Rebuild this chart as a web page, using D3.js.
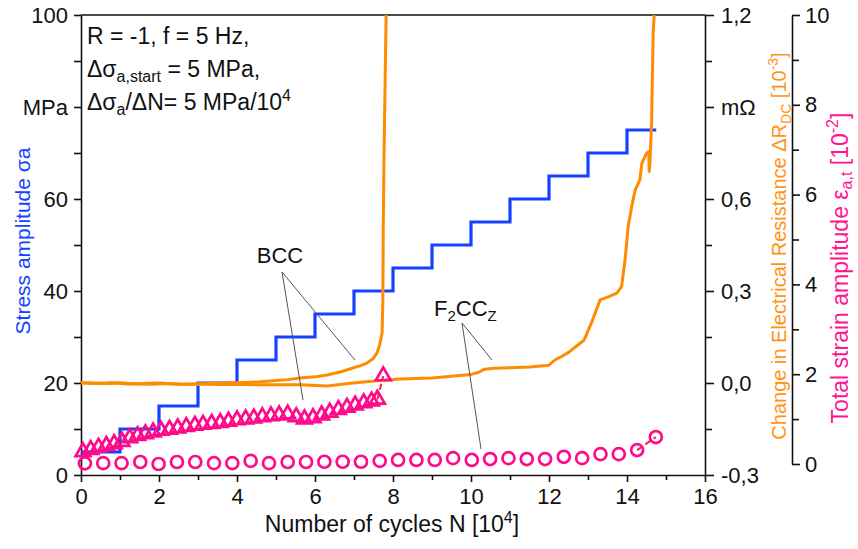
<!DOCTYPE html>
<html>
<head>
<meta charset="utf-8">
<script src="https://cdn.jsdelivr.net/npm/d3@7"></script>
<style>
  html, body { margin: 0; padding: 0; background: #fff; }
  svg { display: block; font-family: Arial, "Liberation Sans", sans-serif; }
</style>
</head>
<body>
<svg id="chart" width="858" height="549"></svg>
<script>
// ---- data -------------------------------------------------------------
// stress amplitude steps (MPa) vs. cycles (10^4)
const stressN = [0, 1, 2, 3, 4, 5, 6, 7, 8, 9, 10, 11, 12, 13, 14, 14.75];
const stressVal = [5, 10, 15, 20, 25, 30, 35, 40, 45, 50, 55, 60, 65, 70, 75, 75];

// change in electrical resistance, BCC
const bccN = [0, 0.3, 0.7, 1.0, 1.4, 1.8, 2.2, 2.6, 3.0, 3.4, 3.8, 4.2, 4.6, 5.0, 5.3, 5.62, 6.0, 6.31, 6.65, 6.97, 7.15, 7.33, 7.48, 7.59, 7.66, 7.72, 7.74, 7.75, 7.77, 7.8, 7.83];
const bccR = [0.001, 0.0, -0.002, 0.001, -0.003, -0.004, -0.002, -0.004, -0.003, -0.001, 0.0, 0.002, 0.004, 0.008, 0.011, 0.016, 0.02, 0.026, 0.036, 0.049, 0.056, 0.065, 0.078, 0.098, 0.125, 0.163, 0.27, 0.5, 0.75, 1.0, 1.25];

// change in electrical resistance, F2CCZ
const fccN = [0, 0.4, 0.8, 1.2, 1.6, 2.0, 2.5, 3.0, 3.5, 4.0, 4.5, 5.0, 5.62, 6.31, 6.97, 7.59, 8.18, 8.6, 9.0, 9.5, 10.0, 10.2, 10.35, 10.6, 11.0, 11.5, 12.0, 12.15, 12.3, 12.5, 12.7, 12.9, 13.1, 13.31, 13.5, 13.74, 13.86, 13.95, 14.03, 14.12, 14.21, 14.33, 14.38, 14.5, 14.56, 14.57, 14.59, 14.63, 14.67, 14.72];
const fccR = [0.0, -0.002, 0.001, -0.003, -0.002, 0.0, -0.004, -0.003, -0.005, -0.004, -0.006, -0.006, -0.006, -0.010, 0.0, 0.007, 0.013, 0.015, 0.016, 0.022, 0.028, 0.035, 0.045, 0.048, 0.05, 0.052, 0.058, 0.075, 0.085, 0.1, 0.12, 0.14, 0.2, 0.271, 0.28, 0.293, 0.314, 0.401, 0.51, 0.575, 0.629, 0.662, 0.716, 0.749, 0.755, 0.69, 0.72, 0.85, 1.14, 1.25];

// total strain amplitude (10^-2), BCC (triangles)
const triN = [0.05, 0.25, 0.45, 0.65, 0.85, 1.05, 1.25, 1.45, 1.65, 1.85, 2.05, 2.27, 2.48, 2.7, 2.92, 3.13, 3.35, 3.57, 3.78, 4.0, 4.22, 4.43, 4.65, 4.87, 5.08, 5.3, 5.52, 5.73, 5.95, 6.17, 6.38, 6.6, 6.82, 7.03, 7.25, 7.45, 7.6];
const triE = [0.27, 0.32, 0.37, 0.41, 0.45, 0.5, 0.58, 0.63, 0.67, 0.71, 0.75, 0.77, 0.8, 0.83, 0.86, 0.88, 0.9, 0.92, 0.95, 0.98, 1.0, 1.02, 1.05, 1.07, 1.09, 1.11, 1.05, 1.0, 1.03, 1.09, 1.15, 1.21, 1.26, 1.31, 1.36, 1.4, 1.44];
const triLastN = 7.75, triLastE = 1.96;

// total strain amplitude (10^-2), F2CCZ (circles)
const circN = [0.1, 0.57, 1.04, 1.52, 1.99, 2.46, 2.93, 3.41, 3.88, 4.35, 4.82, 5.3, 5.77, 6.24, 6.71, 7.18, 7.66, 8.13, 8.6, 9.07, 9.54, 10.02, 10.49, 10.96, 11.43, 11.9, 12.38, 12.85, 13.32, 13.79, 14.26];
const circE = [0.015, 0.02, 0.02, 0.045, 0.0, 0.045, 0.045, 0.02, 0.02, 0.07, 0.02, 0.045, 0.045, 0.05, 0.05, 0.05, 0.07, 0.09, 0.09, 0.09, 0.13, 0.09, 0.11, 0.13, 0.11, 0.11, 0.16, 0.13, 0.22, 0.22, 0.31];
const circLastN = 14.74, circLastE = 0.6;

// axis ticks
const xTicks = [0, 2, 4, 6, 8, 10, 12, 14, 16];
const xMinor = [1, 3, 5, 7, 9, 11, 13, 15];
const sTicks = [0, 20, 40, 60, 80, 100];
const sLabels = ["0", "20", "40", "60", "MPa", "100"];
const sMinor = [10, 30, 50, 70, 90];
const rTicks = [-0.3, 0.0, 0.3, 0.6, 0.9, 1.2];
const rLabels = ["-0,3", "0,0", "0,3", "0,6", "m\u03A9", "1,2"];
const rMinor = [-0.15, 0.15, 0.45, 0.75, 1.05];
const eTicks = [0, 2, 4, 6, 8, 10];
const eMinor = [1, 3, 5, 7, 9];

// ---- layout -----------------------------------------------------------
const L = 81, R = 705, T = 15, B = 475;
const strainAxisX = 792;
const BLUE = "#1443ff", ORANGE = "#ff8c00", PINK = "#ff0a8a", DASH = "#f0283c";

const svg = d3.select("#chart");
const x = d3.scaleLinear().domain([0, 16]).range([L, R]);
const yS = d3.scaleLinear().domain([0, 100]).range([B, T]);
const yR = d3.scaleLinear().domain([-0.3, 1.2]).range([B, T]);
const yE = d3.scaleLinear().domain([0, 10]).range([B - 11, T]);

svg.append("clipPath").attr("id", "plotClip")
  .append("rect").attr("x", L).attr("y", T).attr("width", R - L).attr("height", B - T);

const FS = 22;

function styleAxis(g) {
  g.selectAll("path.domain").attr("stroke", "#111").attr("stroke-width", 1.6);
  g.selectAll(".tick line").attr("stroke", "#111").attr("stroke-width", 1.6);
  g.selectAll(".tick text").attr("fill", "#111").attr("font-size", FS)
    .attr("font-family", "Arial, 'Liberation Sans', sans-serif");
}

// bottom axis
const gx = svg.append("g").attr("transform", `translate(0,${B})`)
  .call(d3.axisBottom(x).tickValues(xTicks).tickSize(7).tickSizeOuter(0).tickPadding(6).tickFormat(d3.format("d")));
styleAxis(gx);
const gxm = svg.append("g").attr("transform", `translate(0,${B})`)
  .call(d3.axisBottom(x).tickValues(xMinor).tickSize(5).tickFormat(""));
styleAxis(gxm); gxm.select("path.domain").remove();

// left axis (stress)
const gl = svg.append("g").attr("transform", `translate(${L},0)`)
  .call(d3.axisLeft(yS).tickValues(sTicks).tickSize(7).tickSizeOuter(0).tickPadding(6)
    .tickFormat((d, i) => sLabels[i]));
styleAxis(gl);
const glm = svg.append("g").attr("transform", `translate(${L},0)`)
  .call(d3.axisLeft(yS).tickValues(sMinor).tickSize(7).tickFormat(""));
styleAxis(glm); glm.select("path.domain").remove();

// top frame line
svg.append("line").attr("x1", L).attr("x2", R).attr("y1", T).attr("y2", T)
  .attr("stroke", "#111").attr("stroke-width", 1.6);

// right axis (resistance)
const gr = svg.append("g").attr("transform", `translate(${R},0)`)
  .call(d3.axisRight(yR).tickValues(rTicks).tickSize(9).tickSizeOuter(0).tickPadding(7)
    .tickFormat((d, i) => rLabels[i]));
styleAxis(gr);
const grm = svg.append("g").attr("transform", `translate(${R},0)`)
  .call(d3.axisRight(yR).tickValues(rMinor).tickSize(7).tickFormat(""));
styleAxis(grm); grm.select("path.domain").remove();

// far right axis (strain)
const ge = svg.append("g").attr("transform", `translate(${strainAxisX},0)`)
  .call(d3.axisRight(yE).tickValues(eTicks).tickSize(8).tickSizeOuter(0).tickPadding(5).tickFormat(d3.format("d")));
styleAxis(ge);
const gem = svg.append("g").attr("transform", `translate(${strainAxisX},0)`)
  .call(d3.axisRight(yE).tickValues(eMinor).tickSize(7).tickFormat(""));
styleAxis(gem); gem.select("path.domain").remove();

// ---- data marks -------------------------------------------------------
const plot = svg.append("g").attr("clip-path", "url(#plotClip)");

// stress steps
const stepLine = d3.line().x(d => x(d[0])).y(d => yS(d[1])).curve(d3.curveStepAfter);
plot.append("path").datum(d3.zip(stressN, stressVal))
  .attr("d", stepLine).attr("fill", "none").attr("stroke", BLUE).attr("stroke-width", 3.2);

// resistance curves
const resLine = d3.line().x(d => x(d[0])).y(d => yR(d[1]));
plot.append("path").datum(d3.zip(bccN, bccR))
  .attr("d", resLine).attr("fill", "none").attr("stroke", ORANGE).attr("stroke-width", 3)
  .attr("stroke-linejoin", "round");
plot.append("path").datum(d3.zip(fccN, fccR))
  .attr("d", resLine).attr("fill", "none").attr("stroke", ORANGE).attr("stroke-width", 3)
  .attr("stroke-linejoin", "round");

// dashed closing segments to the final strain points
plot.append("line")
  .attr("x1", x(triN[triN.length - 1])).attr("y1", yE(triE[triE.length - 1]))
  .attr("x2", x(triLastN)).attr("y2", yE(triLastE))
  .attr("stroke", DASH).attr("stroke-width", 2).attr("stroke-dasharray", "6,4");
plot.append("line")
  .attr("x1", x(circN[circN.length - 1])).attr("y1", yE(circE[circE.length - 1]))
  .attr("x2", x(circLastN)).attr("y2", yE(circLastE))
  .attr("stroke", DASH).attr("stroke-width", 2).attr("stroke-dasharray", "6,4");

// strain markers
const triSym = d3.symbol().type(d3.symbolTriangle).size(95);
const tris = d3.zip(triN, triE).concat([[triLastN, triLastE]]);
svg.append("g").selectAll("path").data(tris).join("path")
  .attr("d", triSym).attr("transform", d => `translate(${x(d[0])},${yE(d[1])})`)
  .attr("fill", "none").attr("stroke", PINK).attr("stroke-width", 2.7);

const circs = d3.zip(circN, circE).concat([[circLastN, circLastE]]);
svg.append("g").selectAll("circle").data(circs).join("circle")
  .attr("cx", d => x(d[0])).attr("cy", d => yE(d[1])).attr("r", 6)
  .attr("fill", "none").attr("stroke", PINK).attr("stroke-width", 2.7);

// ---- annotations ------------------------------------------------------
const ann = svg.append("g").attr("stroke", "#555").attr("stroke-width", 1);
ann.append("line").attr("x1", 282).attr("y1", 272).attr("x2", 303).attr("y2", 400);
ann.append("line").attr("x1", 282).attr("y1", 272).attr("x2", 355).attr("y2", 360);
ann.append("line").attr("x1", 462).attr("y1", 323).attr("x2", 481).attr("y2", 449);
ann.append("line").attr("x1", 462).attr("y1", 323).attr("x2", 492).attr("y2", 360);

svg.append("text").attr("x", 280).attr("y", 263).attr("text-anchor", "middle")
  .attr("font-size", FS).attr("fill", "#111").text("BCC");

const f2 = svg.append("text").attr("x", 434).attr("y", 316).attr("font-size", FS).attr("fill", "#111");
f2.append("tspan").text("F");
f2.append("tspan").attr("font-size", 15).attr("dy", 5).text("2");
f2.append("tspan").attr("dy", -5).text("CC");
f2.append("tspan").attr("font-size", 15).attr("dy", 5).text("Z");

// test conditions
const info = svg.append("g").attr("font-size", 23).attr("fill", "#111");
info.append("text").attr("x", 87).attr("y", 44).text("R = -1, f = 5 Hz,");
const l2 = info.append("text").attr("x", 87).attr("y", 77);
l2.append("tspan").text("\u0394\u03C3");
l2.append("tspan").attr("font-size", 16).attr("dy", 5).text("a,start");
l2.append("tspan").attr("dy", -5).text(" = 5 MPa,");
const l3 = info.append("text").attr("x", 87).attr("y", 110);
l3.append("tspan").text("\u0394\u03C3");
l3.append("tspan").attr("font-size", 16).attr("dy", 5).text("a");
l3.append("tspan").attr("dy", -5).text("/\u0394N= 5 MPa/10");
l3.append("tspan").attr("font-size", 16).attr("dy", -9).text("4");

// ---- axis titles ------------------------------------------------------
const xt = svg.append("text").attr("x", 392).attr("y", 532).attr("text-anchor", "middle")
  .attr("font-size", 23).attr("fill", "#111");
xt.append("tspan").text("Number of cycles N [10");
xt.append("tspan").attr("font-size", 16).attr("dy", -9).text("4");
xt.append("tspan").attr("dy", 9).text("]");

svg.append("text").attr("transform", "translate(30,241) rotate(-90)").attr("text-anchor", "middle")
  .attr("font-size", 21).attr("fill", BLUE).text("Stress amplitude \u03C3a");

const rt = svg.append("text").attr("transform", "translate(786,246) rotate(-90)").attr("text-anchor", "middle")
  .attr("font-size", 20).attr("fill", "#ff9414");
rt.append("tspan").text("Change in Electrical Resistance \u0394R");
rt.append("tspan").attr("font-size", 14).attr("dy", 5).text("DC");
rt.append("tspan").attr("dy", -5).text(" [10");
rt.append("tspan").attr("font-size", 14).attr("dy", -8).text("-3");
rt.append("tspan").attr("dy", 8).text("]");

const et = svg.append("text").attr("transform", "translate(848,268) rotate(-90)").attr("text-anchor", "middle")
  .attr("font-size", 23).attr("fill", "#ff1493");
et.append("tspan").text("Total strain amplitude \u03B5");
et.append("tspan").attr("font-size", 16).attr("dy", 4).text("a,t");
et.append("tspan").attr("dy", -4).text(" [10");
et.append("tspan").attr("font-size", 16).attr("dy", -10).text("-2");
et.append("tspan").attr("dy", 10).text("]");
</script>
</body>
</html>
